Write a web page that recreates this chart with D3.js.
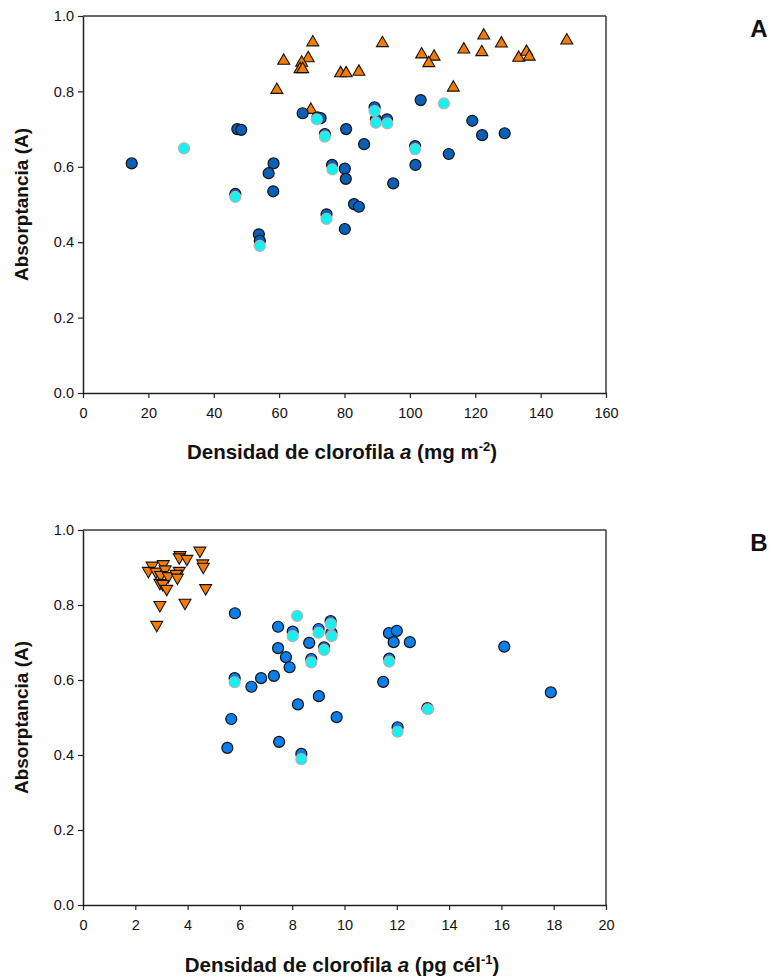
<!DOCTYPE html>
<html>
<head>
<meta charset="utf-8">
<script src="https://cdn.jsdelivr.net/npm/d3@7"></script>
<style>
  html, body { margin: 0; padding: 0; background: #fff; }
  svg text { font-family: "Liberation Sans", Arial, sans-serif; }
</style>
</head>
<body>
<svg id="chart" width="772" height="977"></svg>
<script>
// Panel A: absorptance vs chlorophyll a per area (mg m-2)
const aBlueX = [14.9, 47.2, 48.4, 46.6, 58.3, 56.8, 58.2, 53.8, 54.1, 67.2, 71.7, 72.7, 74.0, 80.5, 76.2, 80.1, 80.4, 74.5, 80.1, 82.9, 84.4, 86.0, 89.2, 89.6, 93.0, 94.9, 101.6, 101.7, 103.3, 111.9, 119.1, 122.1, 129.0];
const aBlueY = [0.609, 0.700, 0.698, 0.528, 0.609, 0.583, 0.535, 0.421, 0.404, 0.742, 0.731, 0.729, 0.687, 0.700, 0.605, 0.595, 0.568, 0.474, 0.435, 0.501, 0.494, 0.660, 0.758, 0.726, 0.726, 0.556, 0.655, 0.605, 0.777, 0.634, 0.722, 0.684, 0.689];
const aCyanX = [30.9, 46.6, 54.1, 71.5, 74.0, 76.3, 74.5, 89.2, 89.6, 93.1, 101.6, 110.4];
const aCyanY = [0.649, 0.520, 0.390, 0.726, 0.680, 0.593, 0.462, 0.748, 0.717, 0.715, 0.647, 0.768];
const aTriX = [70.3, 61.4, 68.9, 66.9, 66.4, 67.2, 78.8, 80.5, 59.3, 69.7, 91.6, 122.6, 128.0, 148.0, 103.6, 107.4, 105.8, 116.5, 122.0, 133.3, 135.7, 136.5, 113.3, 84.4];
const aTriY = [0.930, 0.881, 0.888, 0.876, 0.859, 0.859, 0.848, 0.848, 0.804, 0.751, 0.928, 0.948, 0.927, 0.935, 0.898, 0.892, 0.875, 0.911, 0.904, 0.889, 0.905, 0.892, 0.810, 0.852];

// Panel B: absorptance vs chlorophyll a per cell (pg cel-1)
const bBlueX = [5.81, 7.46, 8.02, 9.01, 9.47, 9.50, 8.65, 7.46, 7.76, 7.90, 9.22, 8.73, 11.70, 12.00, 11.88, 12.50, 11.71, 5.80, 6.44, 6.81, 7.30, 11.48, 8.22, 9.02, 9.70, 5.67, 13.17, 12.03, 5.52, 7.50, 8.35, 16.11, 17.89];
const bBlueY = [0.778, 0.742, 0.729, 0.736, 0.757, 0.726, 0.699, 0.685, 0.661, 0.634, 0.687, 0.656, 0.725, 0.731, 0.701, 0.701, 0.657, 0.605, 0.582, 0.605, 0.611, 0.595, 0.535, 0.557, 0.501, 0.496, 0.525, 0.474, 0.419, 0.435, 0.403, 0.689, 0.567];
const bCyanX = [8.19, 8.02, 9.01, 9.48, 9.51, 9.22, 8.73, 11.71, 5.80, 13.19, 12.03, 8.35];
const bCyanY = [0.771, 0.717, 0.726, 0.749, 0.717, 0.680, 0.647, 0.649, 0.594, 0.522, 0.462, 0.389];
const bTriX = [4.47, 3.71, 3.68, 3.97, 4.58, 4.60, 2.64, 3.07, 2.50, 2.79, 3.14, 2.97, 3.26, 3.68, 3.56, 3.61, 2.94, 3.05, 3.20, 4.69, 2.94, 3.90, 2.82];
const bTriY = [0.945, 0.933, 0.927, 0.923, 0.911, 0.902, 0.905, 0.909, 0.891, 0.889, 0.895, 0.880, 0.877, 0.891, 0.883, 0.873, 0.859, 0.856, 0.843, 0.845, 0.800, 0.806, 0.747];

const yTicks = [0, 0.2, 0.4, 0.6, 0.8, 1.0];
const aXTicks = [0, 20, 40, 60, 80, 100, 120, 140, 160];
const bXTicks = [0, 2, 4, 6, 8, 10, 12, 14, 16, 18, 20];

const svg = d3.select("#chart");
const zip = (xs, ys) => xs.map((x, i) => ({ x, y: ys[i] }));

function panel(cfg) {
  const left = 83, right = 606;
  const x = d3.scaleLinear().domain(cfg.xDomain).range([left, right]);
  const y = d3.scaleLinear().domain([0, 1]).range([cfg.bottom, cfg.top]);
  const g = svg.append("g");

  // frame: top and right edges
  g.append("line").attr("x1", left).attr("x2", right).attr("y1", cfg.top).attr("y2", cfg.top)
    .attr("stroke", "#3a3a3a").attr("stroke-width", 1.5);
  g.append("line").attr("x1", right).attr("x2", right).attr("y1", cfg.top).attr("y2", cfg.bottom)
    .attr("stroke", "#3a3a3a").attr("stroke-width", 1.5);

  const xAxis = g.append("g").attr("transform", `translate(0,${cfg.bottom})`)
    .call(d3.axisBottom(x).tickValues(cfg.xTicks).tickFormat(d3.format("d")).tickSize(5).tickSizeOuter(0).tickPadding(10));
  const yAxis = g.append("g").attr("transform", `translate(${left},0)`)
    .call(d3.axisLeft(y).tickValues(yTicks).tickFormat(d3.format(".1f")).tickSize(5).tickSizeOuter(0).tickPadding(4));
  [xAxis, yAxis].forEach(ax => {
    ax.select(".domain").attr("stroke", "#222").attr("stroke-width", 1.5);
    ax.selectAll(".tick line").attr("stroke", "#222").attr("stroke-width", 1.2);
    ax.selectAll(".tick text").attr("font-size", 14.5).attr("fill", "#111")
      .style("font-family", "'Liberation Sans', Arial, sans-serif");
  });

  // triangles first, then circles on top
  const tri = d3.symbol().type(d3.symbolTriangle).size(62);
  g.append("g").selectAll("path").data(zip(cfg.triX, cfg.triY)).join("path")
    .attr("d", tri)
    .attr("transform", d => `translate(${x(d.x)},${y(d.y)}) rotate(${cfg.triRotate})`)
    .attr("fill", "#f57c00").attr("stroke", "#111").attr("stroke-width", 1.1);

  g.append("g").selectAll("circle").data(zip(cfg.blueX, cfg.blueY)).join("circle")
    .attr("cx", d => x(d.x)).attr("cy", d => y(d.y)).attr("r", 5.5)
    .attr("fill", cfg.blue).attr("stroke", "#111").attr("stroke-width", 1.2);

  g.append("g").selectAll("circle").data(zip(cfg.cyanX, cfg.cyanY)).join("circle")
    .attr("cx", d => x(d.x)).attr("cy", d => y(d.y)).attr("r", 5.5)
    .attr("fill", "#12f2f2").attr("stroke", "#b4b4b4").attr("stroke-width", 1.2);

  // y title
  g.append("text")
    .attr("transform", `translate(28,${(cfg.top + cfg.bottom) / 2}) rotate(-90)`)
    .attr("text-anchor", "middle").attr("font-size", 19).attr("font-weight", "bold").attr("fill", "#111")
    .text("Absorptancia (A)");

  // x title
  const t = g.append("text").attr("x", 342).attr("y", cfg.xTitleY)
    .attr("text-anchor", "middle").attr("font-size", 20.5).attr("font-weight", "bold").attr("fill", "#111");
  t.append("tspan").text("Densidad de clorofila ");
  t.append("tspan").attr("font-style", "italic").text("a");
  t.append("tspan").text(cfg.unit[0]);
  t.append("tspan").attr("font-size", 13).attr("dy", -8).text(cfg.unit[1]);
  t.append("tspan").attr("dy", 8).text(")");

  // panel letter
  g.append("text").attr("x", 759).attr("y", cfg.top + 21).attr("text-anchor", "middle")
    .attr("font-size", 24).attr("font-weight", "bold").attr("fill", "#111").text(cfg.letter);
}

panel({
  letter: "A", top: 16, bottom: 393, xDomain: [0, 160], xTicks: aXTicks, xTitleY: 459,
  unit: [" (mg m", "-2"], blue: "#0a5fb6", triRotate: 0,
  blueX: aBlueX, blueY: aBlueY, cyanX: aCyanX, cyanY: aCyanY, triX: aTriX, triY: aTriY
});

panel({
  letter: "B", top: 530, bottom: 905, xDomain: [0, 20], xTicks: bXTicks, xTitleY: 972,
  unit: [" (pg cél", "-1"], blue: "#0a7fec", triRotate: 180,
  blueX: bBlueX, blueY: bBlueY, cyanX: bCyanX, cyanY: bCyanY, triX: bTriX, triY: bTriY
});
</script>
</body>
</html>
